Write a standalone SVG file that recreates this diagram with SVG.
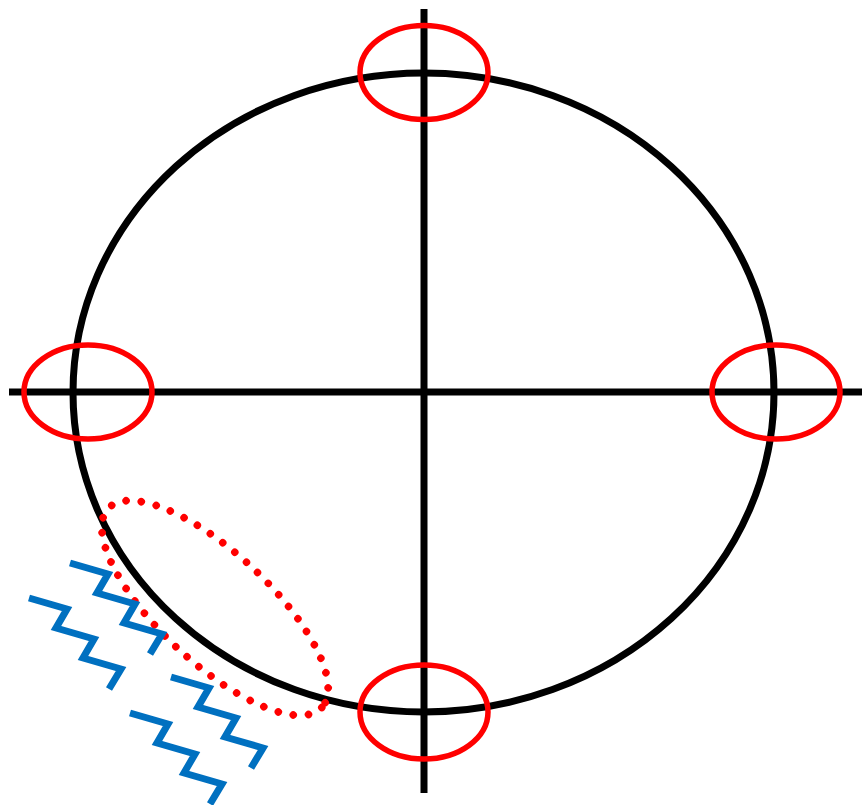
<svg xmlns="http://www.w3.org/2000/svg" width="863" height="805" viewBox="0 0 863 805">
<defs>
<style>
.blk{fill:none;stroke:#000;stroke-width:7}
.red{fill:none;stroke:#FF0000;stroke-width:5.5}
.dot{fill:none;stroke:#FF0000;stroke-width:7.5;stroke-linecap:round;stroke-dasharray:0 15.3}
.zig{fill:none;stroke:#0070C0;stroke-width:7;stroke-linejoin:miter;stroke-miterlimit:10}
</style>
<path id="zz" d="M0,0 l38,11 l-11,19 l38,11 l-11,19 l38,11 l-12,20"/>
</defs>
<rect width="863" height="805" fill="#fff"/>
<g id="circle"><ellipse class="blk" cx="423.5" cy="392.5" rx="350.5" ry="319.5"/></g>
<g id="axes">
<line class="blk" x1="424" y1="9" x2="424" y2="793"/>
<line class="blk" x1="9" y1="392" x2="862" y2="392"/>
</g>
<g id="marker-top"><ellipse class="red" cx="424" cy="72.5" rx="64" ry="47"/></g>
<g id="marker-left"><ellipse class="red" cx="88" cy="392" rx="64" ry="47"/></g>
<g id="marker-right"><ellipse class="red" cx="776" cy="392" rx="64" ry="47"/></g>
<g id="marker-bottom"><ellipse class="red" cx="424" cy="712" rx="64" ry="47"/></g>
<g id="dotted-region"><ellipse class="dot" cx="215" cy="608" rx="146" ry="55" transform="rotate(43 215 608)"/></g>
<g id="waves">
<use href="#zz" class="zig" x="70" y="563"/>
<use href="#zz" class="zig" x="29" y="598"/>
<use href="#zz" class="zig" x="171" y="677"/>
<use href="#zz" class="zig" x="130" y="713"/>
</g>
</svg>
